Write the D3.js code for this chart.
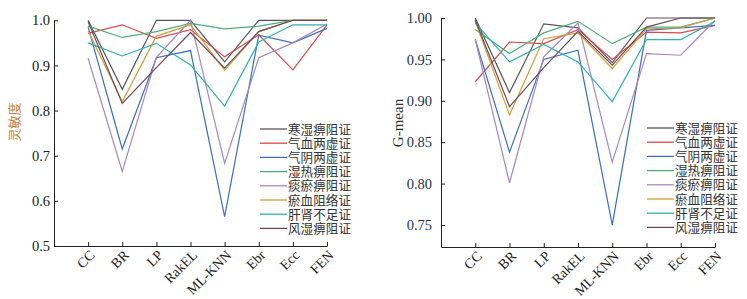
<!DOCTYPE html>
<html>
<head>
<meta charset="utf-8">
<script src="https://cdn.jsdelivr.net/npm/d3@7"></script>
<style>
  body { margin: 0; background: #fff; }
  svg { display: block; }
</style>
</head>
<body>
<svg id="chart" width="747" height="299"></svg>
<script>
// categories (methods) and series (syndromes)
const methods = ["CC", "BR", "LP", "RakEL", "ML-KNN", "Ebr", "Ecc", "FEN"];
const syndromes = ["寒湿痹阻证", "气血两虚证", "气阴两虚证", "湿热痹阻证", "痰瘀痹阻证", "瘀血阻络证", "肝肾不足证", "风湿痹阻证"];
const colors = ["#555555", "#e0474c", "#3b6fc4", "#4caf7a", "#a886c8", "#d4a037", "#2bb5b0", "#6e4a57"];

// 灵敏度 (sensitivity), one row per syndrome
const sensitivity = [
    [1.000, 0.847, 1.000, 1.000, 0.908, 1.000, 1.000, 1.000],
    [0.971, 0.990, 0.960, 0.979, 0.919, 0.968, 0.890, 0.990],
    [0.985, 0.715, 0.917, 0.933, 0.565, 0.967, 0.950, 0.982],
    [0.987, 0.962, 0.975, 0.993, 0.981, 0.987, 1.000, 1.000],
    [0.916, 0.665, 0.918, 1.000, 0.683, 0.917, 0.950, 0.992],
    [0.977, 0.820, 0.965, 0.990, 0.889, 0.975, 1.000, 1.000],
    [0.950, 0.921, 0.949, 0.901, 0.810, 0.952, 0.990, 0.990],
    [0.997, 0.816, 0.895, 0.973, 0.894, 0.975, 1.000, 1.000]
];

// G-mean, one row per syndrome
const gmean = [
    [1.000, 0.910, 0.993, 0.988, 0.946, 1.000, 1.000, 1.000],
    [0.923, 0.971, 0.969, 0.986, 0.950, 0.983, 0.982, 0.991],
    [0.974, 0.838, 0.950, 0.961, 0.750, 0.985, 0.988, 0.991],
    [0.986, 0.957, 0.982, 0.996, 0.969, 0.989, 0.989, 1.000],
    [0.974, 0.801, 0.953, 0.994, 0.826, 0.957, 0.955, 0.997],
    [0.996, 0.883, 0.975, 0.982, 0.939, 0.987, 0.988, 1.000],
    [0.994, 0.947, 0.968, 0.947, 0.899, 0.974, 0.974, 0.996],
    [0.998, 0.893, 0.940, 0.984, 0.943, 0.989, 1.000, 1.000]
];

const sensTicks = [0.5, 0.6, 0.7, 0.8, 0.9, 1.0];
const gmeanTicks = [0.75, 0.80, 0.85, 0.90, 0.95, 1.00];

const svg = d3.select("#chart");
const serif = "'Liberation Serif', 'Times New Roman', serif";
const cjk = "'Noto Sans CJK SC', sans-serif";

function drawPanel(opts) {
    const g = svg.append("g");

    // x: one empty slot before CC so the first method sits one step in
    const x = d3.scalePoint()
        .domain(["", ...methods])
        .range([opts.left, opts.right]);

    const y = d3.scaleLinear()
        .domain(opts.yDomain)
        .range([opts.bottom, opts.top]);

    // x axis
    const xAxis = g.append("g")
        .attr("transform", `translate(0, ${opts.bottom})`)
        .call(d3.axisBottom(x).tickValues(methods).tickSizeInner(-4).tickSizeOuter(0));
    xAxis.select(".domain").attr("stroke", "#222");
    xAxis.selectAll(".tick line").attr("stroke", "#222");
    xAxis.selectAll("text")
        .style("font-family", serif)
        .style("font-size", "14px")
        .attr("fill", "#222")
        .attr("text-anchor", "end")
        .attr("dy", null)
        .attr("y", 0)
        .attr("transform", "translate(7, 10) rotate(-45)");

    // y axis
    const yAxis = g.append("g")
        .attr("transform", `translate(${opts.left}, 0)`)
        .call(d3.axisLeft(y).tickValues(opts.ticks).tickFormat(d3.format(opts.fmt))
            .tickSizeInner(-4).tickSizeOuter(0).tickPadding(opts.pad));
    yAxis.select(".domain").attr("stroke", "#222");
    yAxis.selectAll(".tick line").attr("stroke", "#222");
    yAxis.selectAll("text")
        .style("font-family", serif)
        .style("font-size", "14.5px")
        .attr("fill", opts.tickColor);

    // y label
    g.append("text")
        .attr("transform", `translate(${opts.labelX}, ${opts.labelY}) rotate(-90)`)
        .attr("text-anchor", "middle")
        .style("font-family", opts.labelFont)
        .style("font-size", opts.labelSize)
        .attr("fill", opts.labelColor)
        .text(opts.label);

    // lines
    const line = d3.line()
        .x((d, i) => x(methods[i]))
        .y(d => y(d));

    opts.data.forEach((row, i) => {
        g.append("path")
            .datum(row)
            .attr("fill", "none")
            .attr("stroke", colors[i])
            .attr("stroke-width", 1.2)
            .attr("d", line);
    });

    // legend
    const legend = g.append("g")
        .attr("transform", `translate(${opts.legendX}, ${opts.legendY})`);
    syndromes.forEach((name, i) => {
        const row = legend.append("g").attr("transform", `translate(0, ${i * 14.2})`);
        row.append("line")
            .attr("x1", 0).attr("x2", 27)
            .attr("y1", 0).attr("y2", 0)
            .attr("stroke", colors[i])
            .attr("stroke-width", 1.3);
        row.append("text")
            .attr("x", 28)
            .attr("y", 4.5)
            .style("font-family", cjk)
            .style("font-size", "12.6px")
            .attr("fill", "#333")
            .text(name);
    });
}

drawPanel({
    left: 54, right: 327, top: 20.3, bottom: 246,
    yDomain: [0.5, 1.0], ticks: sensTicks, fmt: ".1f", pad: 4,
    tickColor: "#222",
    data: sensitivity,
    label: "灵敏度", labelX: 19, labelY: 122, labelFont: cjk, labelSize: "13px", labelColor: "#c8803e",
    legendX: 260, legendY: 129
});

drawPanel({
    left: 441, right: 715, top: 18, bottom: 247,
    yDomain: [0.7234, 1.0], ticks: gmeanTicks, fmt: ".2f", pad: 9,
    tickColor: "#27324d",
    data: gmean,
    label: "G-mean", labelX: 403, labelY: 123, labelFont: serif, labelSize: "15px", labelColor: "#333",
    legendX: 647, legendY: 128
});
</script>
</body>
</html>
